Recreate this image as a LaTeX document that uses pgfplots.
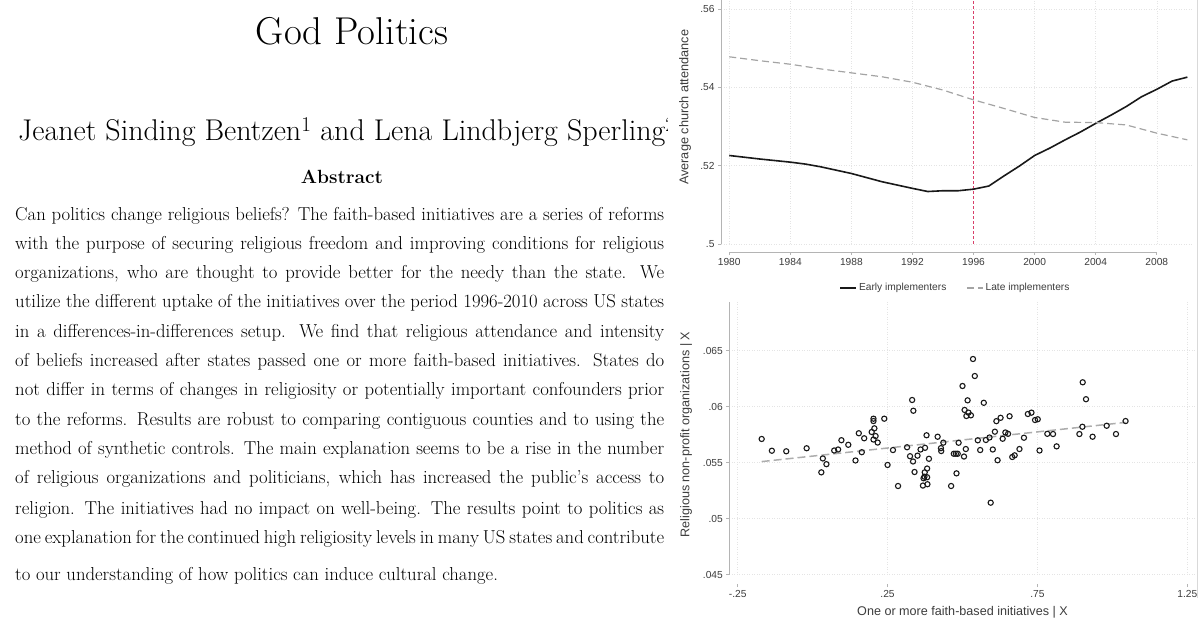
\documentclass[border=0pt]{standalone}
\usepackage{fontspec}
\usepackage{pgfplots}
\pgfplotsset{compat=1.18}
\newfontfamily\arial{Liberation Sans}
\definecolor{axisgray}{HTML}{B4B4B4}
\definecolor{gridgray}{HTML}{E4E4E4}
\definecolor{textgray}{HTML}{3C3C3C}
\definecolor{lategray}{HTML}{A4A4A4}
\definecolor{refred}{HTML}{D8406A}
\newcommand\bodyline[2]{\node[anchor=base west, inner sep=0pt] at (15,638-#1) {\fontsize{18.7}{23}\selectfont\makebox[649pt][s]{#2}};}
\begin{document}
\begin{tikzpicture}[x=1pt,y=1pt]
\path[use as bounding box] (0,0) rectangle (1200,638);

% ---- paper text (left)
\begin{scope}
\clip (0,0) rectangle (667,638);
\node[anchor=base, inner sep=0pt] at (352,638-45) {\fontsize{38.8}{42}\selectfont God Politics};
\node[anchor=base west, inner sep=0pt] at (18,638-141) {\fontsize{30}{34}\selectfont Jeanet Sinding Bentzen\textsuperscript{1} and Lena Lindbjerg Sperling\textsuperscript{2}};
\end{scope}
\node[anchor=base, inner sep=0pt] at (342,638-184) {\fontsize{19.1}{22}\selectfont\bfseries Abstract};
\bodyline{221}{Can politics change religious beliefs? The faith-based initiatives are a series of reforms}
\bodyline{250}{with the purpose of securing religious freedom and improving conditions for religious}
\bodyline{279}{organizations, who are thought to provide better for the needy than the state. We}
\bodyline{308}{utilize the different uptake of the initiatives over the period 1996-2010 across US states}
\bodyline{338}{in a differences-in-differences setup. We find that religious attendance and intensity}
\bodyline{367}{of beliefs increased after states passed one or more faith-based initiatives. States do}
\bodyline{396}{not differ in terms of changes in religiosity or potentially important confounders prior}
\bodyline{426}{to the reforms. Results are robust to comparing contiguous counties and to using the}
\bodyline{455}{method of synthetic controls. The main explanation seems to be a rise in the number}
\bodyline{484}{of religious organizations and politicians, which has increased the public's access to}
\bodyline{514}{religion. The initiatives had no impact on well-being. The results point to politics as}
\bodyline{543}{one explanation for the continued high religiosity levels in many US states and contribute}
\node[anchor=base west, inner sep=0pt] at (15,638-580) {\fontsize{18.7}{23}\selectfont to our understanding of how politics can induce cultural change.};

\draw[gray!30, line width=0.8pt] (1197,638) -- (1197,40);

% ---- top chart: church attendance
\begin{axis}[
  at={(721pt,394pt)}, anchor=south west, scale only axis,
  width=472pt, height=244pt,
  xmin=1979.46, xmax=2010.37, ymin=0.5, ymax=0.5623,
  axis lines*=left,
  x axis line style={draw=none},
  y axis line style={draw=axisgray, line width=0.8pt},
  axis x line shift=8pt,
  tick align=outside, major tick length=3pt,
  tick style={draw=axisgray, line width=0.8pt},
  scaled ticks=false,
  xtick={1980,1984,1988,1992,1996,2000,2004,2008},
  xticklabels={1980,1984,1988,1992,1996,2000,2004,2008},
  ytick={0.5,0.52,0.54,0.56}, yticklabels={.5,.52,.54,.56},
  ticklabel style={font=\arial\fontsize{10.2}{12}\selectfont, text=textgray},
  grid=major, major grid style={draw=gridgray, line width=0.5pt, dotted},
  ylabel={Average church attendance},
  every axis y label/.style={at={(rel axis cs:-0.0763,0.56)}, anchor=center, rotate=90,
    font=\arial\fontsize{12.7}{14}\selectfont, text=textgray},
  legend columns=2,
  legend style={draw=none, fill=none, at={(rel axis cs:0.4968,-0.1803)}, anchor=center,
    font=\arial\fontsize{10.2}{12}\selectfont, text=textgray,
    /tikz/every even column/.append style={column sep=18pt}},
  legend image code/.code={\draw[#1] (0pt,0pt) -- (16pt,0pt);},
  clip=false,
]
\addplot[forget plot, refred, line width=1pt, dash pattern=on 3pt off 2pt] coordinates {(1996,0.5) (1996,0.5623)};
\addplot[black!90, line width=1.6pt] coordinates {
  (1980,0.5226) (1982,0.5217) (1984,0.5209) (1985,0.5204) (1986,0.5197)
  (1988,0.5180) (1990,0.5159) (1992,0.5142) (1993,0.5134) (1994,0.5136)
  (1995,0.5136) (1996,0.5140) (1997,0.5148) (1998,0.5174) (1999,0.5199)
  (2000,0.5226) (2001,0.5245) (2002,0.5266) (2003,0.5286) (2004,0.5308)
  (2005,0.5329) (2006,0.5351) (2007,0.5376) (2008,0.5395) (2009,0.5416)
  (2010,0.5426)
};
\addlegendentry{Early implementers}
\addplot[lategray, line width=1.2pt, dash pattern=on 7pt off 4pt] coordinates {
  (1980,0.5478) (1982,0.5468) (1984,0.5459) (1986,0.5447) (1988,0.5437)
  (1990,0.5427) (1992,0.5413) (1994,0.5393) (1996,0.5368) (1998,0.5346)
  (2000,0.5323) (2002,0.5311) (2004,0.5310) (2006,0.5304) (2008,0.5283)
  (2010,0.5266)
};
\addlegendentry{Late implementers}
\draw[axisgray, line width=0.8pt] ([yshift=-8pt]axis cs:1980,0.5) -- ([yshift=-8pt]axis cs:2008,0.5);
\end{axis}

% ---- bottom chart: added-variable plot
\begin{axis}[
  at={(729.3pt,63.3pt)}, anchor=south west, scale only axis,
  width=466.4pt, height=272.7pt,
  xmin=-0.278, xmax=1.278, ymin=0.045, ymax=0.06935,
  axis lines*=left,
  x axis line style={draw=none},
  y axis line style={draw=axisgray, line width=0.8pt},
  axis x line shift=9.3pt,
  tick align=outside, major tick length=3pt,
  tick style={draw=axisgray, line width=0.8pt},
  scaled ticks=false,
  xtick={-0.25,0.25,0.75,1.25}, xticklabels={-.25,.25,.75,1.25},
  ytick={0.045,0.05,0.055,0.06,0.065}, yticklabels={.045,.05,.055,.06,.065},
  ticklabel style={font=\arial\fontsize{10.2}{12}\selectfont, text=textgray},
  grid=major, major grid style={draw=gridgray, line width=0.5pt, dotted},
  xlabel={One or more faith-based initiatives | X},
  ylabel={Religious non-profit organizations | X},
  every axis x label/.style={at={(rel axis cs:0.5,-0.1393)}, anchor=center,
    font=\arial\fontsize{12.6}{14}\selectfont, text=textgray},
  every axis y label/.style={at={(rel axis cs:-0.0928,0.514)}, anchor=center, rotate=90,
    font=\arial\fontsize{12.6}{14}\selectfont, text=textgray},
]
\addplot[lategray!90, line width=1.5pt, dash pattern=on 8pt off 4pt] coordinates {(-0.17,0.0551) (1.044,0.0586)};
\addplot[only marks, mark=o, mark size=2.6pt, mark options={draw=black!90, line width=1.1pt}] table {
x y
-0.170 0.05712
-0.136 0.05607
-0.088 0.05602
-0.020 0.05629
0.034 0.05538
0.046 0.05487
0.029 0.05414
0.072 0.05609
0.085 0.05618
0.096 0.05701
0.119 0.05660
0.143 0.05520
0.154 0.05763
0.164 0.05594
0.172 0.05718
0.203 0.05893
0.203 0.05872
0.206 0.05807
0.197 0.05774
0.210 0.05738
0.203 0.05707
0.217 0.05680
0.239 0.05893
0.250 0.05480
0.268 0.05613
0.285 0.05292
0.315 0.05638
0.332 0.06060
0.336 0.05964
0.325 0.05558
0.335 0.05511
0.350 0.05563
0.340 0.05417
0.360 0.05618
0.375 0.05633
0.380 0.05745
0.388 0.05535
0.382 0.05448
0.374 0.05414
0.373 0.05375
0.382 0.05370
0.370 0.05361
0.368 0.05296
0.383 0.05308
0.417 0.05732
0.428 0.05630
0.429 0.05604
0.436 0.05679
0.462 0.05292
0.471 0.05580
0.478 0.05580
0.484 0.05580
0.480 0.05405
0.487 0.05678
0.505 0.05555
0.511 0.05622
0.500 0.06185
0.517 0.06057
0.507 0.05971
0.520 0.05947
0.528 0.05923
0.513 0.05917
0.535 0.06426
0.541 0.06274
0.551 0.05700
0.559 0.05613
0.571 0.06035
0.578 0.05703
0.590 0.05725
0.594 0.05143
0.601 0.05618
0.608 0.05777
0.613 0.05871
0.617 0.05522
0.627 0.05901
0.634 0.05714
0.643 0.05770
0.652 0.05758
0.657 0.05915
0.666 0.05551
0.674 0.05566
0.690 0.05622
0.705 0.05723
0.718 0.05935
0.730 0.05947
0.742 0.05881
0.751 0.05888
0.757 0.05609
0.783 0.05758
0.802 0.05756
0.814 0.05646
0.890 0.05756
0.901 0.06218
0.900 0.05821
0.912 0.06067
0.934 0.05732
0.981 0.05830
1.012 0.05756
1.044 0.05872
};
\draw[axisgray, line width=0.8pt] ([yshift=-9.3pt]axis cs:-0.25,0.045) -- ([yshift=-9.3pt]axis cs:1.25,0.045);
\end{axis}
\end{tikzpicture}
\end{document}
